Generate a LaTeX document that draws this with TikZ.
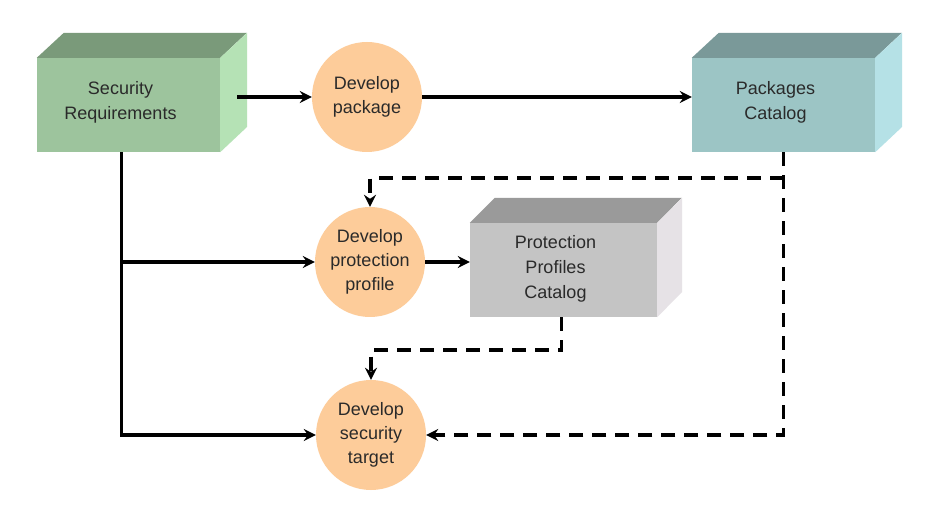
\documentclass[tikz,border=0pt]{standalone}
\usepackage{fontspec}
\setmainfont{Liberation Sans}
\usetikzlibrary{arrows.meta,calc}
\definecolor{srfront}{HTML}{9DC49D}
\definecolor{srtop}{HTML}{7A9A7A}
\definecolor{srside}{HTML}{B5E2B5}
\definecolor{pcfront}{HTML}{9CC5C5}
\definecolor{pctop}{HTML}{7A9999}
\definecolor{pcside}{HTML}{B5E1E6}
\definecolor{ppfront}{HTML}{C4C4C4}
\definecolor{pptop}{HTML}{9A9A9A}
\definecolor{ppside}{HTML}{E6E2E6}
\definecolor{circfill}{HTML}{FDCC9A}
\definecolor{textcol}{HTML}{2A2A2A}
\begin{document}
\begin{tikzpicture}[x=1pt,y=-1pt,
  face/.style={inner sep=0pt, minimum height=94pt},
  facetext/.style={inner sep=0pt, align=center,
    font=\fontsize{18}{25}\selectfont, text=textcol},
  proc/.style={circle, fill=circfill, minimum size=110pt, inner sep=0pt,
    align=center, font=\fontsize{18}{24}\selectfont, text=textcol},
  solidarrow/.style={line width=3.5pt, line join=miter,
    -{Stealth[length=12pt,width=12pt,inset=4pt]}},
  dasharrow/.style={line width=3.5pt, dash pattern=on 14pt off 9pt,
    -{Stealth[length=12pt,width=12pt,inset=4pt]}}
]
\useasboundingbox (0,0) rectangle (943,521);
\fill[white] (0,0) rectangle (943,521);

% Security Requirements box
\node[face, fill=srfront, minimum width=183pt] (sr) at (128.5,105) {};
\fill[srtop] (sr.north west) -- ++(27,-25) -- ++(183,0) -- (sr.north east) -- cycle;
\fill[srside] (sr.north east) -- ++(27,-25) -- ++(0,94) -- (sr.south east) -- cycle;
\node[facetext] (srt) at ($(sr.center)+(-8,-3)$) {Security\\Requirements};

% Packages Catalog box
\node[face, fill=pcfront, minimum width=183pt] (pc) at (783.5,105) {};
\fill[pctop] (pc.north west) -- ++(27,-25) -- ++(183,0) -- (pc.north east) -- cycle;
\fill[pcside] (pc.north east) -- ++(27,-25) -- ++(0,94) -- (pc.south east) -- cycle;
\node[facetext] (pct) at ($(pc.center)+(-8,-3)$) {Packages\\Catalog};

% Protection Profiles Catalog box
\node[face, fill=ppfront, minimum width=187pt] (ppc) at (563.5,270) {};
\fill[pptop] (ppc.north west) -- ++(25,-25) -- ++(187,0) -- (ppc.north east) -- cycle;
\fill[ppside] (ppc.north east) -- ++(25,-25) -- ++(0,94) -- (ppc.south east) -- cycle;
\node[facetext] (ppct) at ($(ppc.center)+(-8,-1)$) {Protection\\Profiles\\Catalog};

% Processes
\node[proc] (dp) at (367,97) {Develop\\package};
\node[proc] (dpp) at (370,262) {Develop\\protection\\profile};
\node[proc] (dst) at (371,435) {Develop\\security\\target};

% Solid connectors
\coordinate (srout) at ($(dp.west -| sr.east)+(17,0)$);
\draw[solidarrow] (srout) -- (dp.west);
\draw[solidarrow] (dp.east) -- (dp.east -| pc.west);
\coordinate (srb) at ($(sr.south)+(-7,0)$);
\draw[solidarrow] (srb) -- (srb |- dst.west) -- (dst.west);
\draw[solidarrow] (srb |- dpp.west) -- (dpp.west);
\draw[solidarrow] (dpp.east) -- (dpp.east -| ppc.west);

% Dashed connectors
\draw[dasharrow] (pc.south) -- (pc.south |- dst.east) -- (dst.east);
\coordinate (pj) at ($(pc.south)+(0,26)$);
\draw[dasharrow] (pj) -| (dpp.north);
\coordinate (ppb) at ($(ppc.south)+(-2,0)$);
\draw[dasharrow] (ppb) -- ++(0,33) -| (dst.north);
\end{tikzpicture}
\end{document}
